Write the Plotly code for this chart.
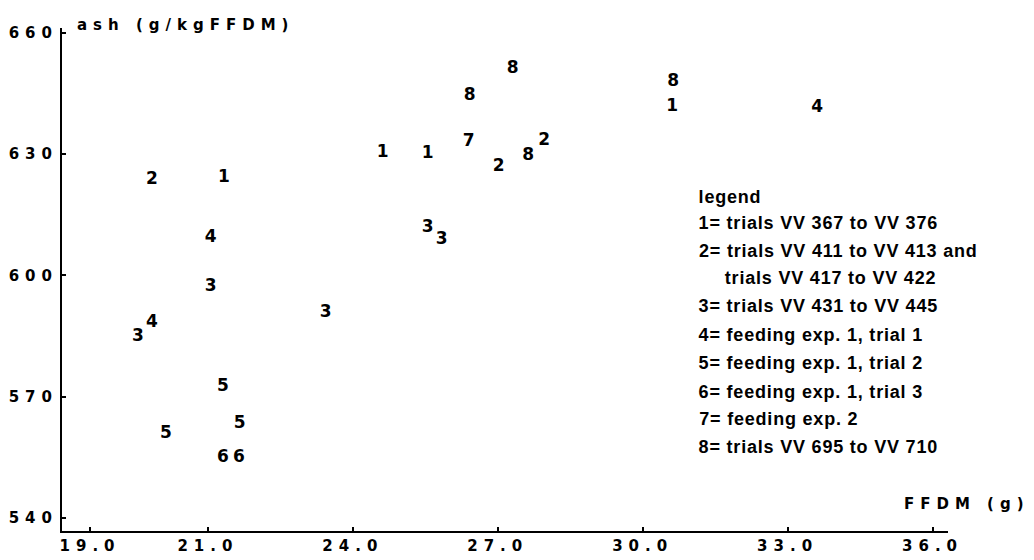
import plotly.graph_objects as go

# ---- data ----
group_labels = ["1", "2", "3", "4", "5", "6", "7", "8"]

ffdm_1 = [24.62, 25.55, 30.61, 21.33]
ash_1 = [630.3, 630.0, 641.7, 624.1]

ffdm_2 = [19.84, 27.02, 27.96]
ash_2 = [623.6, 626.8, 633.3]

ffdm_3 = [25.55, 25.84, 21.06, 23.44, 19.55]
ash_3 = [611.9, 608.9, 597.3, 590.8, 584.9]

ffdm_4 = [33.61, 21.06, 19.84]
ash_4 = [641.4, 609.4, 588.3]

ffdm_5 = [21.31, 21.66, 20.13]
ash_5 = [572.5, 563.3, 560.8]

ffdm_6 = [21.31, 21.64]
ash_6 = [554.8, 554.8]

ffdm_7 = [26.40]
ash_7 = [633.0]

ffdm_8 = [27.31, 26.42, 30.63, 27.63]
ash_8 = [651.1, 644.4, 647.9, 629.5]

x_tick_values = [18.56, 21, 24, 27, 30, 33, 36]
x_tick_labels = ["19.0", "21.0", "24.0", "27.0", "30.0", "33.0", "36.0"]
y_tick_values = [540, 570, 600, 630, 660]
y_tick_labels = ["540", "570", "600", "630", "660"]

legend_title = "legend"
legend_lines = [
    "1= trials VV 367 to VV 376",
    "2= trials VV 411 to VV 413 and",
    "   trials VV 417 to VV 422",
    "3= trials VV 431 to VV 445",
    "4= feeding exp. 1, trial 1",
    "5= feeding exp. 1, trial 2",
    "6= feeding exp. 1, trial 3",
    "7= feeding exp. 2",
    "8= trials VV 695 to VV 710",
]

groups = [
    (ffdm_1, ash_1), (ffdm_2, ash_2), (ffdm_3, ash_3), (ffdm_4, ash_4),
    (ffdm_5, ash_5), (ffdm_6, ash_6), (ffdm_7, ash_7), (ffdm_8, ash_8),
]

fig = go.Figure()
for lab, (xs, ys) in zip(group_labels, groups):
    fig.add_trace(go.Scatter(
        x=xs, y=ys, mode="text", text=[lab] * len(xs),
        textposition="middle center",
        textfont=dict(family="DejaVu Sans", size=17, color="black", weight="bold"),
        showlegend=False, hoverinfo="skip",
    ))

tick_font = dict(family="DejaVu Sans", size=15, color="black", weight="bold")

fig.update_layout(
    width=1034, height=560,
    margin=dict(l=62, r=86, t=28, b=29),
    paper_bgcolor="white", plot_bgcolor="white",
    showlegend=False,
    xaxis=dict(
        range=[17.98, 36.32], showgrid=False, zeroline=False, automargin=False,
        showline=True, linecolor="black", linewidth=2,
        tickmode="array", tickvals=x_tick_values, ticktext=x_tick_labels,
        ticks="inside", ticklen=4, tickwidth=1.5, tickcolor="black",
        tickfont=tick_font, ticklabelstandoff=0,
    ),
    yaxis=dict(
        range=[536.8, 661.2], showgrid=False, zeroline=False, automargin=False,
        showline=True, linecolor="black", linewidth=2,
        tickmode="array", tickvals=y_tick_values, ticktext=y_tick_labels,
        ticks="inside", ticklen=4, tickwidth=1.5, tickcolor="black",
        tickfont=tick_font,
    ),
)
try:
    fig.update_yaxes(ticklabelstandoff=-1)
except Exception:
    pass

TITLE_LS = 5
LEGEND_LS = 0.8

title_a = "ash (g/kgFFDM)"
title_b = "FFDM (g)"
annotations = [
    dict(text=title_a, xref="paper", yref="paper",
         x=(82 - 62 + len(title_a) * TITLE_LS / 2) / 886.0, y=1.006,
         xanchor="left", yanchor="middle", showarrow=False,
         font=dict(family="DejaVu Sans", size=15, color="black", weight="bold")),
    dict(text=title_b, xref="paper", yref="paper",
         x=(906 - 62 + len(title_b) * TITLE_LS / 2) / 886.0,
         y=(531 - 504) / 503.0, xanchor="left", yanchor="middle", showarrow=False,
         font=dict(family="DejaVu Sans", size=15, color="black", weight="bold")),
]

legend_font = dict(family="Liberation Sans", size=18, color="black", weight="bold")
legend_x_px = 697
legend_y_px = [197, 223, 251, 278, 306, 335, 363, 392, 419, 447]
all_lines = [legend_title] + legend_lines
for line, ypx in zip(all_lines, legend_y_px):
    indent = 26 if line.startswith("   ") else 0
    txt = line.strip()
    annotations.append(dict(
        text=txt, xref="paper", yref="paper",
        x=(legend_x_px + indent - 62 + len(txt) * LEGEND_LS / 2) / 886.0,
        y=(531 - ypx) / 503.0,
        xanchor="left", yanchor="middle", showarrow=False, font=legend_font,
    ))

fig.update_layout(annotations=annotations)

post = """
var s=document.createElement('style');
s.textContent='.xtick text, .ytick text, g.annotation[data-index="0"] text, g.annotation[data-index="1"] text {letter-spacing:%dpx;} g.annotation:not([data-index="0"]):not([data-index="1"]) text {letter-spacing:%spx;}';
document.head.appendChild(s);
""" % (TITLE_LS + 1, LEGEND_LS)
fig.write_html("out.html", post_script=post)
